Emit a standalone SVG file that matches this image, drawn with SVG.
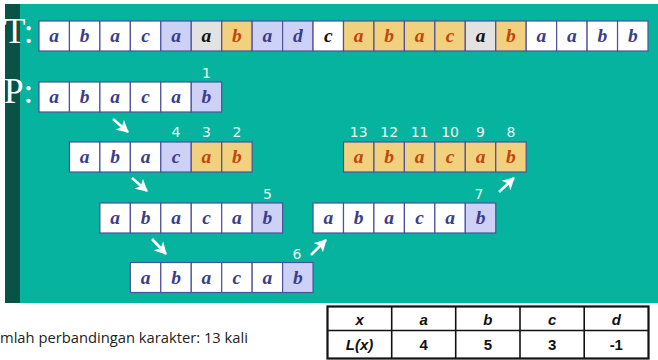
<svg xmlns="http://www.w3.org/2000/svg" width="658" height="360" viewBox="0 0 658 360">
<style>
.c{stroke:#4d509c;stroke-width:1.2}
.w{fill:#ffffff}.l{fill:#cdd1f6}.g{fill:#e2e2e2}.y{fill:#f1d07e}
.t{font-family:"Liberation Serif",serif;font-style:italic;font-weight:bold;font-size:19.5px;text-anchor:middle}
.tb{fill:#3b3d8c}.to{fill:#c4450c}.tk{fill:#111111}
.n{font-family:"DejaVu Sans",sans-serif;font-size:14px;fill:#eef8f4;text-anchor:middle}
.big{font-family:"Liberation Serif",serif;font-size:35px;fill:#ffffff}
.ar{stroke:#ffffff;stroke-width:2.6;fill:none}
.tab{font-family:"Liberation Sans",sans-serif;font-weight:bold;font-size:15px;text-anchor:middle;fill:#111}
</style>
<defs>
<marker id="ah" markerUnits="userSpaceOnUse" markerWidth="14" markerHeight="14" refX="11" refY="7" orient="auto">
<polygon points="0,0.5 12,7 0,13.5 3,7" fill="#ffffff"/>
</marker>
</defs>
<rect x="0" y="0" width="658" height="360" fill="#ffffff"/>
<rect x="5" y="4" width="653" height="299" fill="#05b39e"/>
<rect x="5" y="4" width="15" height="299" fill="#0b5246"/>
<text class="big" x="4" y="43">T:</text>
<text class="big" x="4" y="103">P:</text>

<g id="T" transform="translate(39,21)">
<rect class="c w" x="0" y="0" width="30.45" height="30"/>
<rect class="c w" x="30.45" y="0" width="30.45" height="30"/>
<rect class="c w" x="60.9" y="0" width="30.45" height="30"/>
<rect class="c w" x="91.35" y="0" width="30.45" height="30"/>
<rect class="c l" x="121.8" y="0" width="30.45" height="30"/>
<rect class="c g" x="152.25" y="0" width="30.45" height="30"/>
<rect class="c y" x="182.7" y="0" width="30.45" height="30"/>
<rect class="c l" x="213.15" y="0" width="30.45" height="30"/>
<rect class="c l" x="243.6" y="0" width="30.45" height="30"/>
<rect class="c w" x="274.05" y="0" width="30.45" height="30"/>
<rect class="c y" x="304.5" y="0" width="30.45" height="30"/>
<rect class="c y" x="334.95" y="0" width="30.45" height="30"/>
<rect class="c y" x="365.4" y="0" width="30.45" height="30"/>
<rect class="c y" x="395.85" y="0" width="30.45" height="30"/>
<rect class="c g" x="426.3" y="0" width="30.45" height="30"/>
<rect class="c y" x="456.75" y="0" width="30.45" height="30"/>
<rect class="c w" x="487.2" y="0" width="30.45" height="30"/>
<rect class="c w" x="517.65" y="0" width="30.45" height="30"/>
<rect class="c w" x="548.1" y="0" width="30.45" height="30"/>
<rect class="c w" x="578.55" y="0" width="30.45" height="30"/>
<text class="t tb" x="15.23" y="21">a</text>
<text class="t tb" x="45.68" y="21">b</text>
<text class="t tb" x="76.13" y="21">a</text>
<text class="t tb" x="106.58" y="21">c</text>
<text class="t tb" x="137.03" y="21">a</text>
<text class="t tk" x="167.48" y="21">a</text>
<text class="t to" x="197.93" y="21">b</text>
<text class="t tb" x="228.38" y="21">a</text>
<text class="t tb" x="258.83" y="21">d</text>
<text class="t tk" x="289.28" y="21">c</text>
<text class="t to" x="319.73" y="21">a</text>
<text class="t to" x="350.18" y="21">b</text>
<text class="t to" x="380.63" y="21">a</text>
<text class="t to" x="411.08" y="21">c</text>
<text class="t tk" x="441.53" y="21">a</text>
<text class="t to" x="471.98" y="21">b</text>
<text class="t tb" x="502.43" y="21">a</text>
<text class="t tb" x="532.88" y="21">a</text>
<text class="t tb" x="563.33" y="21">b</text>
<text class="t tb" x="593.78" y="21">b</text>
</g>

<g id="P1" transform="translate(39,82)">
<rect class="c w" x="0" y="0" width="30.45" height="30"/>
<rect class="c w" x="30.45" y="0" width="30.45" height="30"/>
<rect class="c w" x="60.9" y="0" width="30.45" height="30"/>
<rect class="c w" x="91.35" y="0" width="30.45" height="30"/>
<rect class="c w" x="121.8" y="0" width="30.45" height="30"/>
<rect class="c l" x="152.25" y="0" width="30.45" height="30"/>
<text class="t tb" x="15.23" y="21">a</text>
<text class="t tb" x="45.68" y="21">b</text>
<text class="t tb" x="76.13" y="21">a</text>
<text class="t tb" x="106.58" y="21">c</text>
<text class="t tb" x="137.03" y="21">a</text>
<text class="t tb" x="167.48" y="21">b</text>
<text class="n" x="167.48" y="-4">1</text>
</g>

<g id="P2" transform="translate(69.45,142)">
<rect class="c w" x="0" y="0" width="30.45" height="30"/>
<rect class="c w" x="30.45" y="0" width="30.45" height="30"/>
<rect class="c w" x="60.9" y="0" width="30.45" height="30"/>
<rect class="c l" x="91.35" y="0" width="30.45" height="30"/>
<rect class="c y" x="121.8" y="0" width="30.45" height="30"/>
<rect class="c y" x="152.25" y="0" width="30.45" height="30"/>
<text class="t tb" x="15.23" y="21">a</text>
<text class="t tb" x="45.68" y="21">b</text>
<text class="t tb" x="76.13" y="21">a</text>
<text class="t tb" x="106.58" y="21">c</text>
<text class="t to" x="137.03" y="21">a</text>
<text class="t to" x="167.48" y="21">b</text>
<text class="n" x="106.58" y="-5">4</text>
<text class="n" x="137.03" y="-5">3</text>
<text class="n" x="167.48" y="-5">2</text>
</g>

<g id="P3" transform="translate(99.9,203)">
<rect class="c w" x="0" y="0" width="30.45" height="30"/>
<rect class="c w" x="30.45" y="0" width="30.45" height="30"/>
<rect class="c w" x="60.9" y="0" width="30.45" height="30"/>
<rect class="c w" x="91.35" y="0" width="30.45" height="30"/>
<rect class="c w" x="121.8" y="0" width="30.45" height="30"/>
<rect class="c l" x="152.25" y="0" width="30.45" height="30"/>
<text class="t tb" x="15.23" y="21">a</text>
<text class="t tb" x="45.68" y="21">b</text>
<text class="t tb" x="76.13" y="21">a</text>
<text class="t tb" x="106.58" y="21">c</text>
<text class="t tb" x="137.03" y="21">a</text>
<text class="t tb" x="167.48" y="21">b</text>
<text class="n" x="167.48" y="-4">5</text>
</g>

<g id="P4" transform="translate(130.35,262.5)">
<rect class="c w" x="0" y="0" width="30.45" height="30"/>
<rect class="c w" x="30.45" y="0" width="30.45" height="30"/>
<rect class="c w" x="60.9" y="0" width="30.45" height="30"/>
<rect class="c w" x="91.35" y="0" width="30.45" height="30"/>
<rect class="c w" x="121.8" y="0" width="30.45" height="30"/>
<rect class="c l" x="152.25" y="0" width="30.45" height="30"/>
<text class="t tb" x="15.23" y="21">a</text>
<text class="t tb" x="45.68" y="21">b</text>
<text class="t tb" x="76.13" y="21">a</text>
<text class="t tb" x="106.58" y="21">c</text>
<text class="t tb" x="137.03" y="21">a</text>
<text class="t tb" x="167.48" y="21">b</text>
<text class="n" x="166.5" y="-3.5">6</text>
</g>

<g id="P5" transform="translate(313.05,203)">
<rect class="c w" x="0" y="0" width="30.45" height="30"/>
<rect class="c w" x="30.45" y="0" width="30.45" height="30"/>
<rect class="c w" x="60.9" y="0" width="30.45" height="30"/>
<rect class="c w" x="91.35" y="0" width="30.45" height="30"/>
<rect class="c w" x="121.8" y="0" width="30.45" height="30"/>
<rect class="c l" x="152.25" y="0" width="30.45" height="30"/>
<text class="t tb" x="15.23" y="21">a</text>
<text class="t tb" x="45.68" y="21">b</text>
<text class="t tb" x="76.13" y="21">a</text>
<text class="t tb" x="106.58" y="21">c</text>
<text class="t tb" x="137.03" y="21">a</text>
<text class="t tb" x="167.48" y="21">b</text>
<text class="n" x="166" y="-4">7</text>
</g>

<g id="P6" transform="translate(343.5,142)">
<rect class="c y" x="0" y="0" width="30.45" height="30"/>
<rect class="c y" x="30.45" y="0" width="30.45" height="30"/>
<rect class="c y" x="60.9" y="0" width="30.45" height="30"/>
<rect class="c y" x="91.35" y="0" width="30.45" height="30"/>
<rect class="c y" x="121.8" y="0" width="30.45" height="30"/>
<rect class="c y" x="152.25" y="0" width="30.45" height="30"/>
<text class="t to" x="15.23" y="21">a</text>
<text class="t to" x="45.68" y="21">b</text>
<text class="t to" x="76.13" y="21">a</text>
<text class="t to" x="106.58" y="21">c</text>
<text class="t to" x="137.03" y="21">a</text>
<text class="t to" x="167.48" y="21">b</text>
<text class="n" x="15.23" y="-5">13</text>
<text class="n" x="45.68" y="-5">12</text>
<text class="n" x="76.13" y="-5">11</text>
<text class="n" x="106.58" y="-5">10</text>
<text class="n" x="137.03" y="-5">9</text>
<text class="n" x="167.48" y="-5">8</text>
</g>

<g id="connectors">
<line class="ar" x1="113" y1="119" x2="128" y2="132" marker-end="url(#ah)"/>
<line class="ar" x1="132" y1="178" x2="147" y2="191" marker-end="url(#ah)"/>
<line class="ar" x1="152" y1="239" x2="166" y2="254" marker-end="url(#ah)"/>
<line class="ar" x1="311" y1="255" x2="326" y2="240" marker-end="url(#ah)"/>
<line class="ar" x1="499" y1="192" x2="514" y2="178" marker-end="url(#ah)"/>
</g>

<text x="0" y="343" font-family="'Open Sans',sans-serif" font-size="14.6" fill="#222" textLength="248" lengthAdjust="spacingAndGlyphs">mlah perbandingan karakter: 13 kali</text>

<g id="table">
<rect x="327.5" y="306.5" width="321" height="52" fill="#ffffff" stroke="#111" stroke-width="2.2"/>
<line x1="327.5" y1="330.5" x2="648.5" y2="330.5" stroke="#111" stroke-width="1.6"/>
<line x1="391.7" y1="306.5" x2="391.7" y2="358.5" stroke="#111" stroke-width="1.6"/>
<line x1="455.7" y1="306.5" x2="455.7" y2="358.5" stroke="#111" stroke-width="1.6"/>
<line x1="520" y1="306.5" x2="520" y2="358.5" stroke="#111" stroke-width="1.6"/>
<line x1="584.2" y1="306.5" x2="584.2" y2="358.5" stroke="#111" stroke-width="1.6"/>
<text class="tab" x="359.6" y="325" font-style="italic">x</text>
<text class="tab" x="423.7" y="325" font-style="italic">a</text>
<text class="tab" x="487.8" y="325" font-style="italic">b</text>
<text class="tab" x="552.1" y="325" font-style="italic">c</text>
<text class="tab" x="616.3" y="325" font-style="italic">d</text>
<text class="tab" x="359.6" y="350" font-style="italic">L(x)</text>
<text class="tab" x="423.7" y="350">4</text>
<text class="tab" x="487.8" y="350">5</text>
<text class="tab" x="552.1" y="350">3</text>
<text class="tab" x="616.3" y="350">-1</text>
</g>
</svg>
